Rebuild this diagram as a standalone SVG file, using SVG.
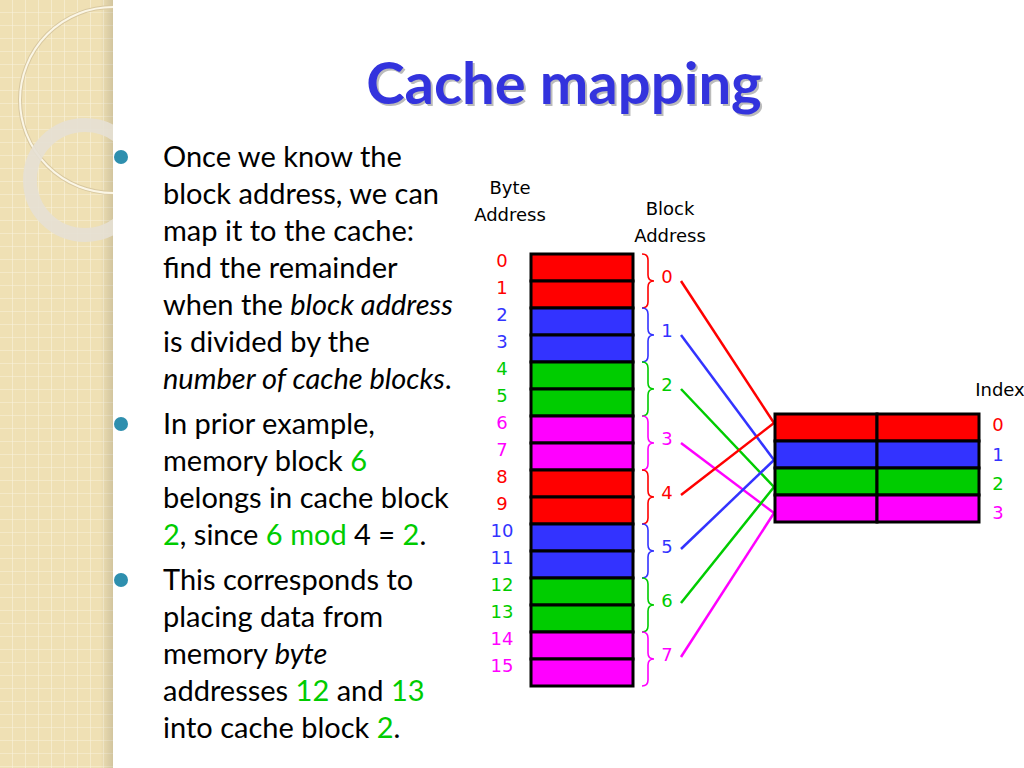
<svg xmlns="http://www.w3.org/2000/svg" width="1024" height="768" viewBox="0 0 1024 768">
<defs>
<pattern id="grid" width="13" height="13" patternUnits="userSpaceOnUse"><rect width="13" height="13" fill="#efe0b4"/><path d="M13 0V13M0 13H13" stroke="#faf3dc" stroke-width="1.2"/></pattern>
<linearGradient id="sh" x1="0" x2="1"><stop offset="0" stop-color="#000" stop-opacity="0"/><stop offset="1" stop-color="#000" stop-opacity="0.12"/></linearGradient>
<clipPath id="strip"><rect width="113" height="768"/></clipPath>
</defs>
<style>
.t{font-family:Lato,"Open Sans",sans-serif;font-size:29px;fill:#000}
.s{font-family:"DejaVu Sans",sans-serif;font-size:18px;text-anchor:middle}
.m{stroke:#000;stroke-width:3}
.r{fill:#f00}.b{fill:#33f}.g{fill:#0c0}.p{fill:#f0f}
.br{fill:none;stroke-width:1.6}
.ln{stroke-width:2.5}
</style>
<rect width="1024" height="768" fill="#fff"/>
<rect width="113" height="768" fill="url(#grid)"/>
<rect x="100" width="13" height="768" fill="url(#sh)"/>
<g clip-path="url(#strip)">
<circle cx="113" cy="100" r="93" fill="none" stroke="#d8c8a0" stroke-width="4"/>
<circle cx="113" cy="100" r="93" fill="none" stroke="#fbf6e6" stroke-width="2"/>
<circle cx="85" cy="180" r="55" fill="none" stroke="#e6e0d4" stroke-width="14" opacity="0.9"/>
</g>
<g id="title"><text x="566" y="106" text-anchor="middle" font-family="Lato,sans-serif" font-weight="bold" font-size="58" fill="#bbb">Cache mapping</text><text x="564" y="104" text-anchor="middle" font-family="Lato,sans-serif" font-weight="bold" font-size="58" fill="#3333dd">Cache mapping</text></g>
<g id="bullets" fill="#2e8fae"><circle cx="121" cy="157" r="7"/><circle cx="121" cy="424" r="7"/><circle cx="121" cy="580" r="7"/></g>
<g id="text" class="t">
<text x="163" y="167">Once we know the</text>
<text x="163" y="204">block address, we can</text>
<text x="163" y="241">map it to the cache:</text>
<text x="163" y="278">find the remainder</text>
<text x="163" y="315">when the <tspan font-style="italic">block address</tspan></text>
<text x="163" y="352">is divided by the</text>
<text x="163" y="389"><tspan font-style="italic">number of cache blocks</tspan>.</text>
<text x="163" y="434">In prior example,</text>
<text x="163" y="471">memory block <tspan fill="#0c0">6</tspan></text>
<text x="163" y="508">belongs in cache block</text>
<text x="163" y="545"><tspan fill="#0c0">2</tspan>, since <tspan fill="#0c0">6</tspan> <tspan fill="#0c0">mod</tspan> 4 = <tspan fill="#0c0">2</tspan>.</text>
<text x="163" y="590">This corresponds to</text>
<text x="163" y="627">placing data from</text>
<text x="163" y="664">memory <tspan font-style="italic">byte</tspan></text>
<text x="163" y="701">addresses <tspan fill="#0c0">12</tspan> and <tspan fill="#0c0">13</tspan></text>
<text x="163" y="738">into cache block <tspan fill="#0c0">2</tspan>.</text>
</g>
<g id="headers" class="s" fill="#000"><text x="510" y="194">Byte</text><text x="510" y="221">Address</text><text x="670" y="215">Block</text><text x="670" y="242">Address</text><text x="1000" y="396">Index</text></g>
<g id="memory" class="m">
<rect class="r" x="531" y="254" width="102" height="27"/><rect class="r" x="531" y="281" width="102" height="27"/>
<rect class="b" x="531" y="308" width="102" height="27"/><rect class="b" x="531" y="335" width="102" height="27"/>
<rect class="g" x="531" y="362" width="102" height="27"/><rect class="g" x="531" y="389" width="102" height="27"/>
<rect class="p" x="531" y="416" width="102" height="27"/><rect class="p" x="531" y="443" width="102" height="27"/>
<rect class="r" x="531" y="470" width="102" height="27"/><rect class="r" x="531" y="497" width="102" height="27"/>
<rect class="b" x="531" y="524" width="102" height="27"/><rect class="b" x="531" y="551" width="102" height="27"/>
<rect class="g" x="531" y="578" width="102" height="27"/><rect class="g" x="531" y="605" width="102" height="27"/>
<rect class="p" x="531" y="632" width="102" height="27"/><rect class="p" x="531" y="659" width="102" height="27"/>
</g>
<g id="bytes" class="s">
<text x="502" y="267" class="r">0</text><text x="502" y="294" class="r">1</text><text x="502" y="321" class="b">2</text><text x="502" y="348" class="b">3</text>
<text x="502" y="375" class="g">4</text><text x="502" y="402" class="g">5</text><text x="502" y="429" class="p">6</text><text x="502" y="456" class="p">7</text>
<text x="502" y="483" class="r">8</text><text x="502" y="510" class="r">9</text><text x="502" y="537" class="b">10</text><text x="502" y="564" class="b">11</text>
<text x="502" y="591" class="g">12</text><text x="502" y="618" class="g">13</text><text x="502" y="645" class="p">14</text><text x="502" y="672" class="p">15</text>
</g>
<g id="braces" class="br">
<path stroke="#f00" d="M642 254q6 0 6 6v15q0 6 6 6q-6 0-6 6v15q0 6-6 6"/>
<path stroke="#33f" d="M642 308q6 0 6 6v15q0 6 6 6q-6 0-6 6v15q0 6-6 6"/>
<path stroke="#0c0" d="M642 362q6 0 6 6v15q0 6 6 6q-6 0-6 6v15q0 6-6 6"/>
<path stroke="#f0f" d="M642 416q6 0 6 6v15q0 6 6 6q-6 0-6 6v15q0 6-6 6"/>
<path stroke="#f00" d="M642 470q6 0 6 6v15q0 6 6 6q-6 0-6 6v15q0 6-6 6"/>
<path stroke="#33f" d="M642 524q6 0 6 6v15q0 6 6 6q-6 0-6 6v15q0 6-6 6"/>
<path stroke="#0c0" d="M642 578q6 0 6 6v15q0 6 6 6q-6 0-6 6v15q0 6-6 6"/>
<path stroke="#f0f" d="M642 632q6 0 6 6v15q0 6 6 6q-6 0-6 6v15q0 6-6 6"/>
</g>
<g id="blocks" class="s">
<text x="667" y="283" class="r">0</text><text x="667" y="337" class="b">1</text><text x="667" y="391" class="g">2</text><text x="667" y="445" class="p">3</text>
<text x="667" y="499" class="r">4</text><text x="667" y="553" class="b">5</text><text x="667" y="607" class="g">6</text><text x="667" y="661" class="p">7</text>
</g>
<g id="connectors" class="ln">
<line x1="681" y1="281" x2="774" y2="423" stroke="#f00"/>
<line x1="681" y1="335" x2="774" y2="460" stroke="#33f"/>
<line x1="681" y1="389" x2="774" y2="487" stroke="#0c0"/>
<line x1="681" y1="443" x2="774" y2="513" stroke="#f0f"/>
<line x1="681" y1="495" x2="774" y2="423" stroke="#f00"/>
<line x1="681" y1="549" x2="774" y2="460" stroke="#33f"/>
<line x1="681" y1="603" x2="774" y2="487" stroke="#0c0"/>
<line x1="681" y1="657" x2="774" y2="513" stroke="#f0f"/>
</g>
<g id="cache" class="m">
<rect class="r" x="775" y="414" width="102" height="27"/><rect class="r" x="877" y="414" width="102" height="27"/>
<rect class="b" x="775" y="441" width="102" height="27"/><rect class="b" x="877" y="441" width="102" height="27"/>
<rect class="g" x="775" y="468" width="102" height="27"/><rect class="g" x="877" y="468" width="102" height="27"/>
<rect class="p" x="775" y="495" width="102" height="27"/><rect class="p" x="877" y="495" width="102" height="27"/>
</g>
<g id="index" class="s"><text x="998" y="431" class="r">0</text><text x="998" y="461" class="b">1</text><text x="998" y="490" class="g">2</text><text x="998" y="519" class="p">3</text></g>
</svg>
